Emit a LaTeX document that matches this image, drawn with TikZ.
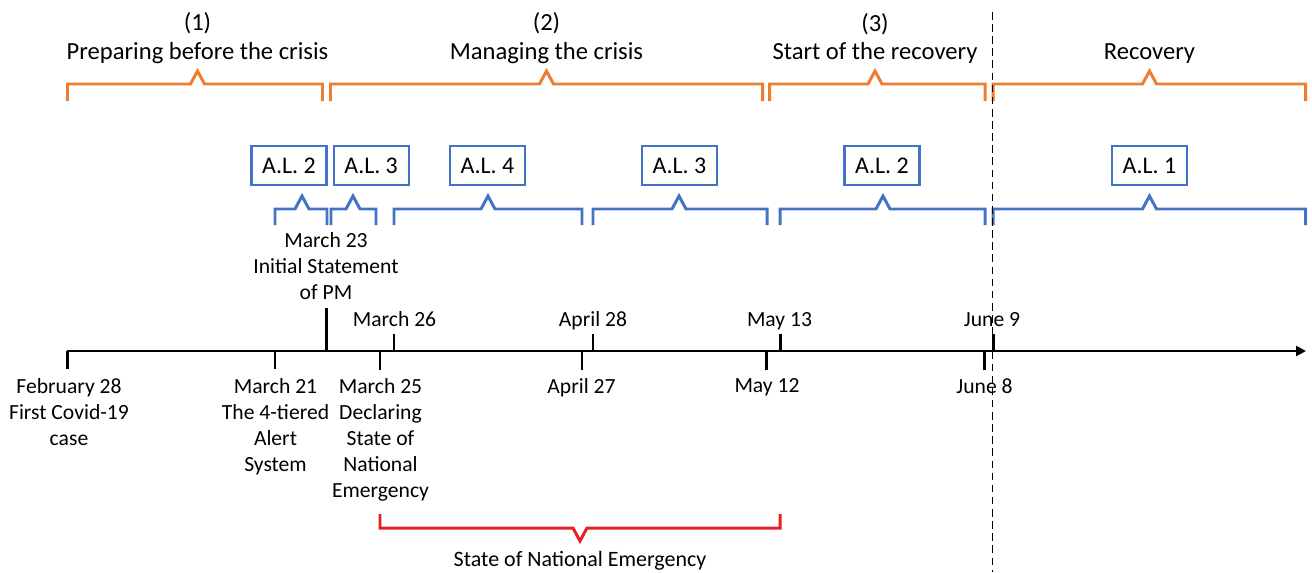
\documentclass[tikz,border=0pt]{standalone}
\usepackage{fontspec}
\setmainfont{Carlito}
\usepackage{tikz}
\usetikzlibrary{arrows.meta,positioning}
\definecolor{phaseorange}{RGB}{237,125,49}
\definecolor{alertblue}{RGB}{68,114,196}
\definecolor{emergred}{RGB}{232,30,37}
\tikzstyle{alertbox} = [draw=alertblue, line width=1.2pt, rectangle, minimum height=0.78cm, minimum width=1.5cm, inner sep=0pt, font=\fontsize{13.6}{16}\selectfont]
\tikzstyle{phaselabel} = [align=center, inner sep=0pt, font=\fontsize{14}{16.2}\selectfont]
\tikzstyle{datelabel} = [align=center, inner sep=0pt]
\tikzstyle{tick} = [line width=1.7pt]
% name, colour, left, right, peak, line y, end y, peak y
\newcommand{\bracket}[8]{
  \draw[#2, line width=1.7pt] (#3,#7) -- (#3,#6) -- (#5-7,#6) -- (#5,#8) -- (#5+7,#6) -- (#4,#6) -- (#4,#7);
  \coordinate (#1) at (#5,#8);
}

\begin{document}
\begin{tikzpicture}[x=0.02cm, y=-0.02cm, font=\fontsize{12.3}{14.8}\selectfont]
    \useasboundingbox (0,0) rectangle (1312,572);

    % phases
    \bracket{peakone}{phaseorange}{67.5}{322.5}{197.5}{84}{101}{71}
    \bracket{peaktwo}{phaseorange}{330.5}{762.5}{546.5}{84}{101}{71}
    \bracket{peakthree}{phaseorange}{769.5}{985}{875}{84}{101}{71}
    \bracket{peakfour}{phaseorange}{993}{1305.5}{1149.5}{84}{101}{71}

    \node [phaselabel] [above = 0.14cm of peakone] (prep) {(1)\\Preparing before the crisis};
    \node [phaselabel] [above = 0.14cm of peaktwo] (manage) {(2)\\Managing the crisis};
    \node [phaselabel] [above = 0.14cm of peakthree] (start) {(3)\\Start of the recovery};
    \node [phaselabel] [above = 0.14cm of peakfour] (recov) {Recovery};

    % alert levels
    \node [alertbox] (altwoa) at (289,165.5) {A.L. 2};
    \node [alertbox] [right = 0.1cm of altwoa] (althreea) {A.L. 3};
    \node [alertbox] (alfour) at (487.5,165.5) {A.L. 4};
    \node [alertbox] (althreeb) at (679.5,165.5) {A.L. 3};
    \node [alertbox] (altwob) at (882,165.5) {A.L. 2};
    \node [alertbox] (alone) at (1149.5,165.5) {A.L. 1};

    \bracket{lvla}{alertblue}{275}{327}{302}{209}{225}{196}
    \bracket{lvlb}{alertblue}{331}{376}{353}{209}{225}{196}
    \bracket{lvlc}{alertblue}{394}{582}{488}{209}{225}{196}
    \bracket{lvld}{alertblue}{593}{767}{679}{209}{225}{196}
    \bracket{lvle}{alertblue}{780}{985}{883}{209}{225}{196}
    \bracket{lvlf}{alertblue}{993}{1305.5}{1149.5}{209}{225}{196}

    % time axis
    \coordinate (start) at (67,351);
    \coordinate (end) at (1306,351);
    \coordinate (feb28) at (67.5,351);
    \coordinate (mar21) at (275,351);
    \coordinate (mar23) at (326.5,351);
    \coordinate (mar25) at (380,351);
    \coordinate (mar26) at (394,351);
    \coordinate (apr27) at (582,351);
    \coordinate (apr28) at (593,351);
    \coordinate (may12) at (766.5,351);
    \coordinate (may13) at (780,351);
    \coordinate (jun8) at (984.5,351);
    \coordinate (jun9) at (993,351);

    \draw[line width=1.4pt, -{Triangle[length=0.2cm, width=0.2cm]}] (start) -- (end);

    \draw[tick] (feb28) -- ++(0,18);
    \draw[tick] (mar21) -- ++(0,18);
    \draw[tick] (mar25) -- ++(0,19);
    \draw[tick] (apr27) -- ++(0,19);
    \draw[tick] (may12) -- ++(0,19);
    \draw[tick] (jun8) -- ++(0,19);
    \draw[tick] (mar23) -- ++(0,-43);
    \draw[tick] (mar26) -- ++(0,-17);
    \draw[tick] (apr28) -- ++(0,-17);
    \draw[tick] (may13) -- ++(0,-17);
    \draw[tick] (jun9) -- ++(0,-17);

    % dates below the axis
    \node [datelabel, anchor=north] (feb28lbl) at (69,378) {February 28\\First Covid-19\\case};
    \node [datelabel, anchor=north] (mar21lbl) at (275.5,378) {March 21\\The 4-tiered\\Alert\\System};
    \node [datelabel, anchor=north] (mar25lbl) at (380.5,378) {March 25\\Declaring\\State of\\National\\Emergency};
    \node [datelabel, anchor=north] (apr27lbl) at (581.5,378) {April 27};
    \node [datelabel, anchor=north] (may12lbl) at (767,378) {May 12};
    \node [datelabel, anchor=north] (jun8lbl) at (984.5,378) {June 8};

    % dates above the axis
    \node [datelabel, anchor=south] (mar23lbl) at (326,300) {March 23\\Initial Statement\\of PM};
    \node [datelabel, anchor=base] (mar26lbl) at (394.5,326) {March 26};
    \node [datelabel, anchor=base] (apr28lbl) at (593,326) {April 28};
    \node [datelabel, anchor=base] (may13lbl) at (779.5,326) {May 13};
    \node [datelabel, anchor=base] (jun9lbl) at (992,326) {June 9};

    % state of emergency
    \bracket{emerg}{emergred}{380}{780}{580}{528}{514}{541}
    \node [datelabel, anchor=base, font=\fontsize{12.5}{15}\selectfont] (emerglbl) at (580,566) {State of National Emergency};

    % split between crisis and recovery
    \coordinate (splittop) at (992.5,12);
    \coordinate (splitbot) at (992.5,572);
    \draw[line width=1pt, dash pattern=on 4.3pt off 2.6pt] (splittop) -- (splitbot);
\end{tikzpicture}
\end{document}
